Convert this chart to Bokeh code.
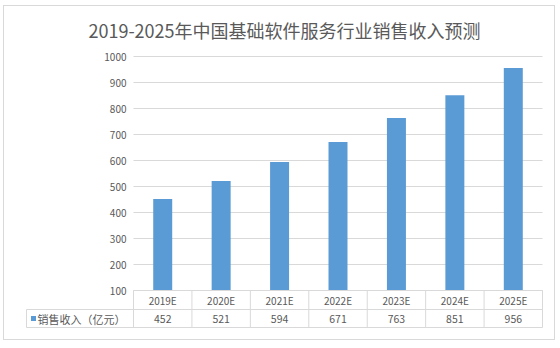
from bokeh.plotting import figure
from bokeh.models import Range1d
from bokeh.core.properties import value
from bokeh.embed import file_html
from bokeh.resources import INLINE

# ---- data ----
categories = ["2019E", "2020E", "2021E", "2022E", "2023E", "2024E", "2025E"]
sales = [452, 521, 594, 671, 763, 851, 956]
y_ticks = [100, 200, 300, 400, 500, 600, 700, 800, 900, 1000]
series_name = "销售收入（亿元）"
title_text = "2019-2025年中国基础软件服务行业销售收入预测"

# ---- layout constants (page pixels) ----
BOX_L, BOX_T, BOX_R, BOX_B = 3, 5, 556, 341     # chart border
OX, OY = BOX_L + 1, BOX_T + 1                   # canvas origin inside border
W, H = BOX_R - BOX_L - 1, BOX_B - BOX_T - 1
FRAME_L, FRAME_R, FRAME_T, FRAME_B = 20, 548, 50, 332
PLOT_L = 133.0
COL_W = 58.43
Y_TOP_PX, Y_BASE_PX = 56.0, 290.0
ROW_DIV_PX, ROW_BOT_PX = 309.0, 327.0
LEGEND_L_PX = 26.0
PPU = (Y_BASE_PX - Y_TOP_PX) / (y_ticks[-1] - y_ticks[0])

FONT = value("Noto Sans CJK SC")
TXT = "#595959"
BLUE = "#5b9bd5"
LINE = "#d9d9d9"


def xd(px):
    return -0.5 + (px - PLOT_L) / COL_W


def yd(px):
    return y_ticks[0] + (Y_BASE_PX - px) / PPU


n = len(categories)
xs = list(range(n))

p = figure(width=W, height=H,
           x_range=Range1d(xd(FRAME_L), xd(FRAME_R)),
           y_range=Range1d(yd(FRAME_B), yd(FRAME_T)),
           x_axis_location=None, y_axis_location=None,
           toolbar_location=None, output_backend="svg",
           min_border_left=FRAME_L - OX, min_border_right=(OX + W) - FRAME_R,
           min_border_top=FRAME_T - OY, min_border_bottom=(OY + H) - FRAME_B,
           outline_line_color=None,
           styles={"margin-left": f"{BOX_L}px", "margin-top": f"{BOX_T}px",
                   "border": f"1px solid {LINE}"})
p.grid.visible = False

p.title.text = title_text
p.title.align = "center"
p.title.text_font = "Noto Sans CJK SC"
p.title.text_font_size = "18px"
p.title.text_font_style = "normal"
p.title.text_color = TXT
p.title.standoff = 16

x_left = xd(PLOT_L)
x_right = xd(PLOT_L + n * COL_W)
y_div = yd(ROW_DIV_PX)
y_bot = yd(ROW_BOT_PX)

# gridlines
p.segment(x0=[x_left] * len(y_ticks), x1=[x_right] * len(y_ticks),
          y0=y_ticks, y1=y_ticks, line_color=LINE, line_width=1)

# bars
p.vbar(x=xs, bottom=y_ticks[0], top=sales, width=0.325, fill_color=BLUE, line_color=None)

# y tick labels
p.text(x=[x_left] * len(y_ticks), y=y_ticks, text=[str(t) for t in y_ticks],
       text_align="right", text_baseline="middle", x_offset=-7,
       text_font=FONT, text_font_size="10px", text_color=TXT)

# data table lines
x_leg = xd(LEGEND_L_PX)
p.segment(x0=[x_left, x_leg, x_leg], x1=[x_right] * 3,
          y0=[y_ticks[0], y_div, y_bot], y1=[y_ticks[0], y_div, y_bot],
          line_color=LINE, line_width=1)
vx = [i - 0.5 for i in range(n + 1)]
p.segment(x0=vx, x1=vx, y0=[y_ticks[0]] * len(vx), y1=[y_bot] * len(vx),
          line_color=LINE, line_width=1)
p.segment(x0=[x_leg], x1=[x_leg], y0=[y_div], y1=[y_bot], line_color=LINE, line_width=1)

# header and values
p.text(x=xs, y=[(y_ticks[0] + y_div) / 2] * n, text=categories,
       text_align="center", text_baseline="middle",
       text_font=FONT, text_font_size="10px", text_color=TXT)
p.text(x=xs, y=[(y_div + y_bot) / 2] * n, text=[str(v) for v in sales],
       text_align="center", text_baseline="middle",
       text_font=FONT, text_font_size="10.5px", text_color=TXT)

# legend key + series name
y_mid2 = (y_div + y_bot) / 2
p.scatter(x=[xd(33)], y=[y_mid2], marker="square", size=5, fill_color=BLUE, line_color=None)
p.text(x=[xd(37)], y=[y_mid2], text=[series_name], text_align="left", text_baseline="middle",
       text_font=FONT, text_font_size="11px", text_color=TXT)

open("out.html", "w").write(file_html(p, INLINE))
